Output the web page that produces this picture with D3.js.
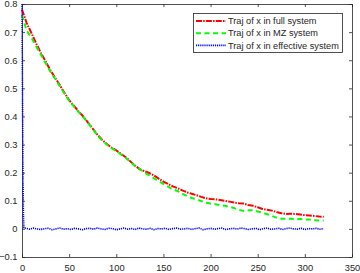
<!DOCTYPE html>
<html>
<head>
<meta charset="utf-8">
<script src="https://cdn.jsdelivr.net/npm/d3@7"></script>
<style>
  body { margin: 0; background: #fff; }
  svg text { font-family: "Liberation Sans", Arial, sans-serif; fill: #262626; }
</style>
</head>
<body>
<svg id="vis" width="360" height="273"></svg>
<script>
// time grid for the full / MZ trajectories (step 5)
const tGrid = d3.range(0, 321, 5);

const fullSys = [
  0.780, 0.732, 0.697, 0.660, 0.626, 0.596, 0.565, 0.538, 0.512, 0.484,
  0.458, 0.438, 0.418, 0.400, 0.378, 0.357, 0.335, 0.317, 0.302, 0.289,
  0.279, 0.267, 0.255, 0.240, 0.225, 0.212, 0.205, 0.199, 0.190, 0.179,
  0.168, 0.160, 0.151, 0.145, 0.137, 0.130, 0.125, 0.120, 0.114, 0.109,
  0.106, 0.105, 0.103, 0.100, 0.097, 0.094, 0.091, 0.090, 0.085, 0.082,
  0.077, 0.071, 0.068, 0.065, 0.060, 0.056, 0.053, 0.054, 0.053, 0.051,
  0.049, 0.048, 0.046, 0.044, 0.043
];

const mzSys = [
  0.760, 0.705, 0.680, 0.650, 0.620, 0.590, 0.560, 0.535, 0.508, 0.482,
  0.456, 0.436, 0.416, 0.398, 0.376, 0.355, 0.333, 0.315, 0.300, 0.287,
  0.277, 0.265, 0.253, 0.238, 0.223, 0.213, 0.200, 0.190, 0.180, 0.170,
  0.160, 0.150, 0.141, 0.135, 0.125, 0.117, 0.110, 0.106, 0.099, 0.093,
  0.090, 0.088, 0.085, 0.082, 0.079, 0.074, 0.068, 0.064, 0.066, 0.066,
  0.062, 0.058, 0.052, 0.046, 0.040, 0.036, 0.036, 0.036, 0.035, 0.035,
  0.034, 0.033, 0.031, 0.030, 0.030
];

// effective system: fast drop then noise around zero
const effHeadT = [0, 0.5, 1, 1.5, 2];
const effHeadV = [0.800, 0.500, 0.200, 0.050, 0.004];
const effTailV = [
  0.002,-0.001, 0.003, 0.000,-0.002, 0.001, 0.002,-0.003, 0.000, 0.003,
 -0.001, 0.001,-0.002, 0.002, 0.000,-0.003, 0.001, 0.002,-0.001, 0.003,
  0.000,-0.002, 0.002, 0.001,-0.003, 0.000, 0.003,-0.001, 0.001,-0.002,
  0.003, 0.000,-0.001, 0.002,-0.003, 0.001, 0.000, 0.002,-0.002, 0.001,
  0.003,-0.001, 0.000, 0.002,-0.002, 0.001, 0.003,-0.003, 0.000, 0.002,
 -0.001, 0.001, 0.003,-0.002, 0.000, 0.002,-0.001, 0.003, 0.001,-0.002,
  0.000, 0.002,-0.003, 0.001, 0.003,-0.001, 0.000, 0.002,-0.002, 0.001,
  0.003, 0.000,-0.001, 0.002,-0.002, 0.001, 0.000, 0.002,-0.001, 0.001
];
const effTailT = d3.range(4, 321, 4);

const xTicks = [0, 50, 100, 150, 200, 250, 300, 350];
const yTicks = [-0.1, 0, 0.1, 0.2, 0.3, 0.4, 0.5, 0.6, 0.7, 0.8];
const legendLabels = ["Traj of x in full system", "Traj of x in MZ system", "Traj of x in effective system"];

const svg = d3.select("svg#vis");
const box = { left: 22, right: 352, top: 4, bottom: 257 };

const x = d3.scaleLinear().domain([0, 350]).range([box.left, box.right]);
const y = d3.scaleLinear().domain([-0.1, 0.8]).range([box.bottom, box.top]);

const axisColor = "#262626";

// axes (MATLAB box style, ticks inside)
function styleAxis(sel) {
  sel.select(".domain").remove();
  sel.selectAll("line").attr("stroke", axisColor).attr("stroke-width", 0.8);
  sel.selectAll("text").style("font-size", "9.3px").attr("fill", axisColor);
}

svg.append("g")
  .attr("transform", "translate(0," + box.bottom + ")")
  .call(d3.axisBottom(x).tickValues(xTicks).tickSizeInner(-3).tickSizeOuter(0).tickPadding(7))
  .call(styleAxis);

svg.append("g")
  .attr("transform", "translate(0," + box.top + ")")
  .call(d3.axisTop(x).tickValues(xTicks).tickSizeInner(-3).tickSizeOuter(0).tickFormat(""))
  .call(styleAxis);

svg.append("g")
  .attr("transform", "translate(" + box.left + ",0)")
  .call(d3.axisLeft(y).tickValues(yTicks).tickSizeInner(-3).tickSizeOuter(0).tickPadding(4.5)
        .tickFormat(d => d3.format("~g")(+d.toFixed(1))))
  .call(styleAxis);

svg.append("g")
  .attr("transform", "translate(" + box.right + ",0)")
  .call(d3.axisRight(y).tickValues(yTicks).tickSizeInner(-3).tickSizeOuter(0).tickFormat(""))
  .call(styleAxis);

svg.append("rect")
  .attr("x", box.left + 0.5).attr("y", box.top + 0.5)
  .attr("width", box.right - box.left).attr("height", box.bottom - box.top)
  .attr("fill", "none").attr("stroke", axisColor).attr("stroke-width", 0.8);

// series
const series = [
  { t: tGrid, v: fullSys, color: "#ff0000", dash: "6,1.2,1.5,1.2", width: 2 },
  { t: tGrid, v: mzSys, color: "#00ff00", dash: "5,3.5", width: 2 },
  { t: effHeadT.concat(effTailT), v: effHeadV.concat(effTailV), color: "#0000ff", dash: "1.2,0.9", width: 1.6 }
];

const line = d3.line().x(d => x(d[0])).y(d => y(d[1]));

svg.append("g").selectAll("path.traj")
  .data(series)
  .enter()
  .append("path")
  .attr("class", "traj")
  .attr("d", s => line(s.t.map((t, i) => [t, s.v[i]])))
  .attr("fill", "none")
  .attr("stroke", s => s.color)
  .attr("stroke-width", s => s.width)
  .attr("stroke-dasharray", s => s.dash);

// legend
const legend = svg.append("g").attr("transform", "translate(193,13)");
legend.append("rect")
  .attr("x", 0.5).attr("y", 0.5)
  .attr("width", 149).attr("height", 39)
  .attr("fill", "#fff").attr("stroke", axisColor).attr("stroke-width", 0.8);

const items = legend.selectAll("g.item")
  .data(series)
  .enter()
  .append("g")
  .attr("class", "item")
  .attr("transform", (d, i) => "translate(0," + (8 + i * 12.2) + ")");

items.append("line")
  .attr("x1", 3).attr("x2", 33).attr("y1", 0).attr("y2", 0)
  .attr("stroke", d => d.color)
  .attr("stroke-width", d => d.width)
  .attr("stroke-dasharray", d => d.dash);

items.append("text")
  .attr("x", 35).attr("y", 3.2)
  .style("font-size", "9.2px")
  .text((d, i) => legendLabels[i]);
</script>
</body>
</html>
